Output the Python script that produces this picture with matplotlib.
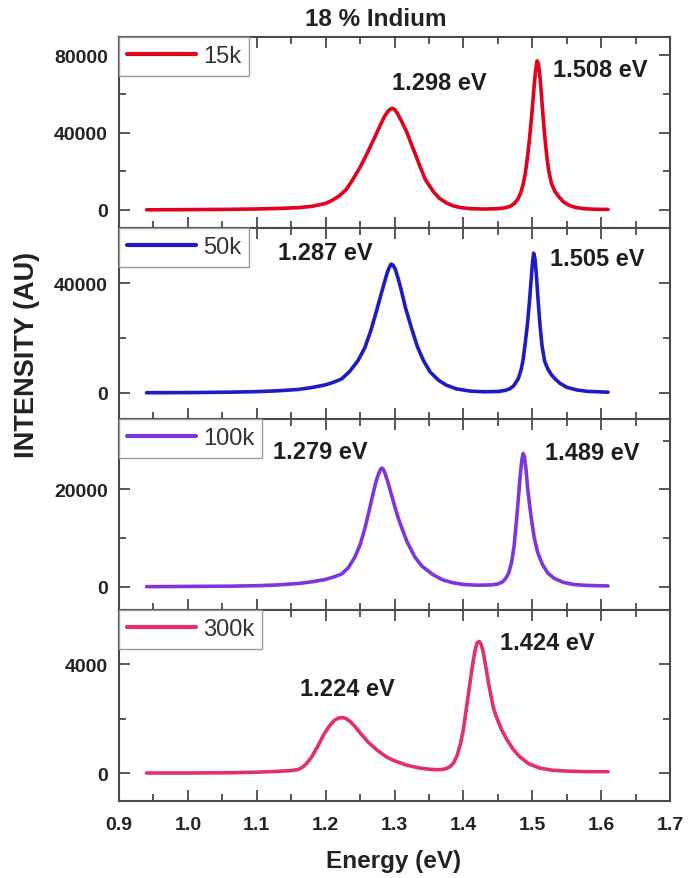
import matplotlib
matplotlib.use("Agg")
import matplotlib.pyplot as plt
from matplotlib.ticker import MultipleLocator, FixedLocator

plt.rcParams['font.family'] = ['Liberation Sans', 'DejaVu Sans']

# ---------------- data ----------------
labels = ["15k", "50k", "100k", "300k"]
colors = ["#e4001b", "#1c1cc4", "#7d35e0", "#e2306e"]

E15 = [0.94, 1.00, 1.06, 1.10, 1.13, 1.16, 1.18, 1.20, 1.21, 1.22, 1.23, 1.24, 1.25, 1.26,
       1.27, 1.279, 1.285, 1.29, 1.294, 1.297, 1.300, 1.304, 1.31, 1.3175, 1.325, 1.333,
       1.3369, 1.345, 1.3562, 1.365, 1.3756, 1.385, 1.395, 1.41, 1.43, 1.45, 1.46, 1.468,
       1.474, 1.479, 1.483, 1.487, 1.490, 1.493, 1.4965, 1.499, 1.501, 1.503, 1.505, 1.507,
       1.509, 1.511, 1.513, 1.515, 1.518, 1.521, 1.524, 1.528, 1.533, 1.538, 1.545, 1.553,
       1.563, 1.575, 1.59, 1.61]
I15 = [0, 100, 250, 450, 700, 1100, 1800, 3300, 5000, 7300, 10500, 16000, 22000, 29000,
       36500, 43500, 48000, 50800, 52100, 52500, 52000, 50000, 46000, 40500, 33500, 26250,
       22500, 15500, 9500, 6000, 3500, 2100, 1200, 600, 400, 600, 1000, 1800,
       3300, 5500, 8500, 13500, 19000, 27000, 38500, 48000, 56500, 65000, 72500, 77000,
       75500, 69500, 61000, 51500, 38500, 28000, 20000, 13500, 9500, 7000, 4200, 2400,
       1200, 600, 300, 200]

E50 = [0.94, 1.00, 1.06, 1.10, 1.13, 1.16, 1.18, 1.20, 1.21, 1.223, 1.235, 1.247, 1.257,
       1.266, 1.274, 1.28, 1.285, 1.289, 1.292, 1.295, 1.298, 1.301, 1.305, 1.31, 1.316,
       1.3248, 1.333, 1.342, 1.352, 1.3634, 1.375, 1.39, 1.41, 1.43, 1.45, 1.46, 1.467,
       1.473, 1.4796, 1.484, 1.487, 1.490, 1.4932, 1.496, 1.498, 1.500, 1.502, 1.504, 1.506,
       1.508, 1.511, 1.514, 1.518, 1.523, 1.528, 1.533, 1.54, 1.55, 1.565, 1.58, 1.61]
I50 = [0, 50, 200, 400, 700, 1200, 1900, 2900, 3700, 5000, 7800, 11750, 16500,
       23000, 30000, 35500, 40000, 43500, 45600, 47000, 46600, 45200, 42000, 37300, 31000,
       23500, 17000, 11750, 7500, 4700, 2800, 1400, 600, 350, 450, 800, 1400,
       2500, 5100, 8500, 12500, 18500, 25500, 33500, 40000, 46500, 51000, 49000, 43000,
       35500, 25500, 17500, 11500, 8500, 6500, 5100, 3500, 2000, 1000, 500, 200]

E100 = [0.94, 1.00, 1.06, 1.10, 1.13, 1.16, 1.18, 1.20, 1.212, 1.2232, 1.233, 1.2425, 1.25,
        1.257, 1.263, 1.268, 1.272, 1.276, 1.2793, 1.2813, 1.2835, 1.286, 1.29, 1.295, 1.30,
        1.305, 1.3103, 1.318, 1.3296, 1.34, 1.3562, 1.37, 1.385, 1.40, 1.42, 1.44, 1.45,
        1.457, 1.462, 1.466, 1.470, 1.4735, 1.4772, 1.480, 1.4825, 1.4848, 1.4868, 1.4888,
        1.491, 1.4935, 1.496, 1.499, 1.503, 1.508, 1.515, 1.523, 1.532, 1.545, 1.56, 1.58,
        1.61]
I100 = [0, 50, 100, 200, 350, 650, 1000, 1500, 2000, 2600, 3900, 6100, 8600,
        12000, 15500, 18600, 21000, 22900, 24000, 24400, 24200, 23400, 21700, 19200, 16700,
        14300, 12200, 9300, 6100, 4200, 2440, 1400, 800, 450, 300, 350, 550,
        1000, 1800, 2900, 5000, 8200, 13700, 18500, 22800, 26000, 27400, 26600,
        24000, 20000, 17000, 13700, 10000, 7000, 4500, 2740, 1700, 900, 450, 250,
        150]

E300 = [0.94, 1.00, 1.06, 1.10, 1.13, 1.15, 1.16, 1.165, 1.172, 1.18, 1.1893, 1.197, 1.205,
        1.212, 1.218, 1.2247, 1.23, 1.236, 1.243, 1.252, 1.262, 1.275, 1.2885, 1.30, 1.3175,
        1.335, 1.35, 1.362, 1.372, 1.38, 1.386, 1.391, 1.396, 1.40, 1.4046, 1.4095, 1.4135,
        1.4168, 1.4198, 1.423, 1.426, 1.4288, 1.432, 1.436, 1.44, 1.4433, 1.4482, 1.455,
        1.4627, 1.472, 1.4817, 1.495, 1.511, 1.53, 1.55, 1.58, 1.61]
I300 = [0, 0, 10, 30, 60, 90, 130, 190, 340, 600, 1020, 1400, 1720,
        1920, 2020, 2040, 2000, 1890, 1700, 1420, 1130, 840, 590, 450, 290,
        190, 140, 120, 140, 220, 380, 650, 1100, 1600, 2420, 3300, 4000,
        4500, 4780, 4840, 4730, 4450, 4000, 3380, 2850, 2420, 2050, 1620,
        1250, 880, 600, 340, 180, 100, 70, 50, 50]

energies = [E15, E50, E100, E300]
intensities = [I15, I50, I100, I300]

# peak annotations
peak_texts = [["1.298 eV", "1.508 eV"], ["1.287 eV", "1.505 eV"],
              ["1.279 eV", "1.489 eV"], ["1.224 eV", "1.424 eV"]]
peak_text_x = [[1.2958, 1.5303], [1.1312, 1.5255], [1.124, 1.5183], [1.1627, 1.453]]
peak_text_y = [[66000, 72500], [51070, 48900], [27840, 27680], [3110, 4810]]

# axis settings per panel
ylims = [(-9400, 89400), (-9600, 60200), (-4800, 34500), (-1030, 6000)]
ymajor = [[0, 40000, 80000], [0, 40000], [0, 20000], [0, 4000]]
yminor = [[20000, 60000], [20000], [10000, 30000], [2000]]
xlim = (0.9, 1.7)
xtick_labels = ["0.9", "1.0", "1.1", "1.2", "1.3", "1.4", "1.5", "1.6", "1.7"]

# ---------------- figure ----------------
fig = plt.figure(figsize=(6.97, 8.79), dpi=100)
gs = fig.add_gridspec(4, 1, left=119/697, right=670/697, top=1-38/879,
                      bottom=1-802/879, hspace=0)
spine_col = "#4a4a4a"
for i in range(4):
    ax = fig.add_subplot(gs[i])
    ax.plot(energies[i], intensities[i], color=colors[i], lw=2.6,
            solid_joinstyle='round', solid_capstyle='round', label=labels[i])
    ax.set_xlim(*xlim)
    ax.set_ylim(*ylims[i])
    ax.xaxis.set_major_locator(MultipleLocator(0.1))
    ax.xaxis.set_minor_locator(MultipleLocator(0.05))
    ax.yaxis.set_major_locator(FixedLocator(ymajor[i]))
    ax.yaxis.set_minor_locator(FixedLocator(yminor[i]))
    ax.tick_params(which='both', direction='in', top=True, right=True,
                   color=spine_col, width=1.3)
    ax.tick_params(which='major', length=8)
    ax.tick_params(which='minor', length=5)
    ax.tick_params(axis='y', which='major', pad=8, labelsize=14)
    ax.tick_params(axis='x', which='major', pad=11, labelsize=14)
    for lab in ax.get_yticklabels():
        lab.set_fontweight('bold')
        lab.set_color('#222222')
    if i < 3:
        ax.tick_params(axis='x', labelbottom=False)
    else:
        ax.set_xticks([0.9 + 0.1 * k for k in range(9)])
        ax.set_xticklabels(xtick_labels, fontweight='bold', color='#222222')
    for s in ax.spines.values():
        s.set_color(spine_col)
        s.set_linewidth(1.5)
    for t, tx, ty in zip(peak_texts[i], peak_text_x[i], peak_text_y[i]):
        ax.text(tx, ty, t, ha='left', va='center', fontsize=17,
                fontweight='bold', color='#1e1e1e')
    leg = ax.legend(loc='upper left', bbox_to_anchor=(0, 1), borderaxespad=0,
                    fancybox=False, framealpha=1, edgecolor='#9a9a9a',
                    fontsize=17, handlelength=2.9, handletextpad=0.3,
                    borderpad=0.35)
    leg.get_frame().set_linewidth(1.0)
    leg.set_zorder(5)
    for h in leg.get_lines():
        h.set_linewidth(3)
    for t in leg.get_texts():
        t.set_color('#333333')

fig.text(376/697, 1-19/879, "18 % Indium", ha='center', va='center',
         fontsize=17.5, fontweight='bold', color='#222222')
fig.text(394/697, 1-862/879, "Energy (eV)", ha='center', va='center',
         fontsize=17.5, fontweight='bold', color='#222222')
fig.text(27/697, 1-355/879, "INTENSITY (AU)", ha='center', va='center',
         rotation=90, fontsize=19.5, fontweight='bold', color='#222222')

fig.savefig("out.png", dpi=100, facecolor='white')
